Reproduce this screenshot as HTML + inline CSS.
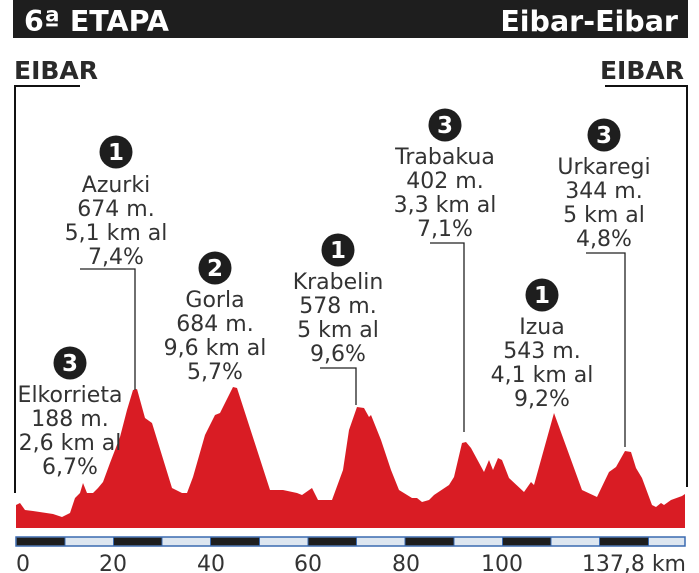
<!DOCTYPE html>
<html><head><meta charset="utf-8"><style>
html,body{margin:0;padding:0;background:#fff;width:699px;height:573px;overflow:hidden}
svg{display:block}
text{font-family:"DejaVu Sans","Liberation Sans",sans-serif}
</style></head><body>
<svg width="699" height="573" viewBox="0 0 699 573" xmlns="http://www.w3.org/2000/svg">
<rect x="13" y="0" width="675" height="38" fill="#1e1e1e"/>
<text x="24" y="31" font-size="28.5" font-weight="bold" fill="#fff">6ª ETAPA</text>
<text x="678" y="31" font-size="28.5" font-weight="bold" fill="#fff" text-anchor="end">Eibar-Eibar</text>
<text x="14" y="79" font-size="25" font-weight="bold" fill="#2a2a2a">EIBAR</text>
<text x="684" y="79" font-size="25" font-weight="bold" fill="#2a2a2a" text-anchor="end">EIBAR</text>
<polyline points="80,86 15,86 15,493" fill="none" stroke="#111" stroke-width="2"/>
<polyline points="605,86 687,86 687,487" fill="none" stroke="#111" stroke-width="2"/>
<path fill="#d91c24" d="M16,528 L16,505 20,503 25,510 33,511 53,514 62,517 70,513 75,498 80,493 83,483 87,493 93,493 98,488 103,482 110,463 120,437 127,410 133,390 137,389 145,418 152,423 172,488 182,493 187,493 193,477 205,435 215,415 220,413 233,387 237,388 270,490 283,490 297,493 302,495 312,488 318,500 332,500 343,470 349,430 357,407 364,408 369,417 371,415 381,440 391,470 399,490 412,498 417,498 422,502 429,500 434,495 449,485 454,477 462,443 466,442 471,448 484,472 489,460 493,470 498,458 502,460 509,478 524,492 531,482 534,485 554,413 582,490 597,497 609,472 616,467 625,451 631,452 636,468 642,478 652,505 656,507 661,503 664,505 671,500 682,496 685,494 L685,528 Z"/>
<g fill="none" stroke="#222" stroke-width="1.3">
<polyline points="80,269 135,269 135,390"/>
<polyline points="320,368 356,368 356,405"/>
<polyline points="430,243 464,243 464,432"/>
<polyline points="586,253 625,253 625,447"/>
</g>
<g font-size="22" fill="#333" text-anchor="middle">
<g fill="#1e1e1e"><circle cx="116" cy="152" r="16.5"/><circle cx="215" cy="268" r="16.5"/><circle cx="338" cy="250" r="16.5"/><circle cx="445" cy="125" r="16.5"/><circle cx="604" cy="135" r="16.5"/><circle cx="542" cy="295" r="16.5"/><circle cx="70" cy="363" r="16.5"/></g>
<g fill="#fff" font-weight="bold" font-size="23">
<text x="116" y="160">1</text><text x="215" y="276">2</text><text x="338" y="258">1</text><text x="445" y="133">3</text><text x="604" y="143">3</text><text x="542" y="303">1</text><text x="70" y="371">3</text>
</g>
<text x="116" y="192">Azurki</text><text x="116" y="216">674 m.</text><text x="116" y="240">5,1 km al</text><text x="116" y="264">7,4%</text>
<text x="215" y="307">Gorla</text><text x="215" y="331">684 m.</text><text x="215" y="355">9,6 km al</text><text x="215" y="379">5,7%</text>
<text x="338" y="289">Krabelin</text><text x="338" y="313">578 m.</text><text x="338" y="337">5 km al</text><text x="338" y="361">9,6%</text>
<text x="445" y="164">Trabakua</text><text x="445" y="188">402 m.</text><text x="445" y="212">3,3 km al</text><text x="445" y="236">7,1%</text>
<text x="604" y="174">Urkaregi</text><text x="604" y="198">344 m.</text><text x="604" y="222">5 km al</text><text x="604" y="246">4,8%</text>
<text x="542" y="334">Izua</text><text x="542" y="358">543 m.</text><text x="542" y="382">4,1 km al</text><text x="542" y="406">9,2%</text>
<text x="70" y="402">Elkorrieta</text><text x="70" y="426">188 m.</text><text x="70" y="450">2,6 km al</text><text x="70" y="474">6,7%</text>
</g>
<rect x="16" y="537" width="669" height="9" fill="#dde6f0" stroke="#3a6ab0" stroke-width="1.5"/>
<g fill="#1e1e1e">
<rect x="16.7" y="537.7" width="48" height="7.6"/>
<rect x="113.8" y="537.7" width="48.6" height="7.6"/>
<rect x="211" y="537.7" width="48.6" height="7.6"/>
<rect x="308" y="537.7" width="48.6" height="7.6"/>
<rect x="405.5" y="537.7" width="48.6" height="7.6"/>
<rect x="502.5" y="537.7" width="48.6" height="7.6"/>
<rect x="600" y="537.7" width="48.6" height="7.6"/>
</g>
<g stroke="#3a6ab0" stroke-width="1">
<line x1="65" y1="537" x2="65" y2="546"/><line x1="113.5" y1="537" x2="113.5" y2="546"/><line x1="162" y1="537" x2="162" y2="546"/><line x1="210.5" y1="537" x2="210.5" y2="546"/><line x1="259.5" y1="537" x2="259.5" y2="546"/><line x1="308" y1="537" x2="308" y2="546"/><line x1="356.5" y1="537" x2="356.5" y2="546"/><line x1="405" y1="537" x2="405" y2="546"/><line x1="454" y1="537" x2="454" y2="546"/><line x1="502.5" y1="537" x2="502.5" y2="546"/><line x1="551" y1="537" x2="551" y2="546"/><line x1="599.5" y1="537" x2="599.5" y2="546"/><line x1="648.5" y1="537" x2="648.5" y2="546"/>
</g>
<g font-size="22" fill="#333" text-anchor="middle">
<text x="23" y="571">0</text><text x="113" y="571">20</text><text x="211" y="571">40</text><text x="308" y="571">60</text><text x="406" y="571">80</text><text x="502" y="571">100</text>
<text x="686" y="571" text-anchor="end">137,8 km</text>
</g>
</svg>
</body></html>
